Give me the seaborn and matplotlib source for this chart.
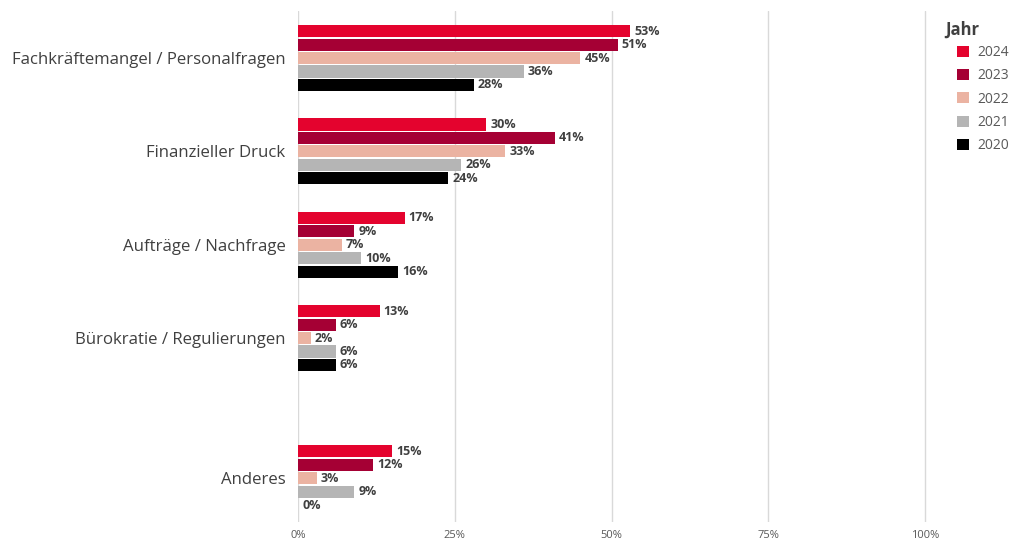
import matplotlib
matplotlib.use("Agg")
import matplotlib.pyplot as plt
import pandas as pd
import seaborn as sns
from matplotlib.ticker import FuncFormatter

# Anteil der Nennungen je Herausforderung und Jahr (in %)
categories = [
    "Fachkräftemangel / Personalfragen",
    "Finanzieller Druck",
    "Aufträge / Nachfrage",
    "Bürokratie / Regulierungen",
    "Anderes",
]
years = ["2024", "2023", "2022", "2021", "2020"]
share_2024 = [53, 30, 17, 13, 15]
share_2023 = [51, 41, 9, 6, 12]
share_2022 = [45, 33, 7, 2, 3]
share_2021 = [36, 26, 10, 6, 9]
share_2020 = [28, 24, 16, 6, 0]
x_ticks = [0, 25, 50, 75, 100]

# Zeilenpositionen: "Anderes" etwas abgesetzt
row_pos = [0, 1, 2, 3, 4.5]

palette = {
    "2024": "#E4032E",
    "2023": "#A50034",
    "2022": "#EBB3A2",
    "2021": "#B5B5B5",
    "2020": "#000000",
}

series = dict(zip(years, [share_2024, share_2023, share_2022, share_2021, share_2020]))
df = pd.DataFrame(
    [
        {"Kategorie": c, "pos": p, "Jahr": y, "Anteil": series[y][i]}
        for y in years
        for i, (c, p) in enumerate(zip(categories, row_pos))
    ]
)

sns.set_theme(style="white")
plt.rcParams["font.family"] = ["Open Sans", "DejaVu Sans"]

x_max = 102
fig = plt.figure(figsize=(10.21, 5.41), dpi=100)
ax = fig.add_axes([298 / 1021, 1 - 522 / 541,
                   627 * x_max / 100 / 1021, (522 - 11) / 541])

sns.barplot(
    data=df, x="Anteil", y="pos", hue="Jahr", hue_order=years,
    palette=palette, orient="y", native_scale=True, width=0.72, gap=0.1,
    saturation=1, errorbar=None, linewidth=0, ax=ax,
)

text_col = "#404040"
for cont, y in zip(ax.containers, years):
    ax.bar_label(cont, labels=[f"{v}%" for v in series[y]], padding=3,
                 fontsize=9, fontweight="bold", color=text_col)

ax.set_xlim(0, x_max)
ax.set_ylim(4.97, -0.504)
ax.set_xticks(x_ticks)
ax.xaxis.set_major_formatter(FuncFormatter(lambda v, _: f"{v:.0f}%"))
ax.set_yticks(row_pos)
ax.set_yticklabels(categories)
ax.tick_params(axis="y", length=0, pad=9, labelsize=12.1, labelcolor=text_col)
ax.tick_params(axis="x", length=0, pad=6, labelsize=8, labelcolor="#595959")
ax.grid(axis="x", color="#D9D9D9", linewidth=1)
ax.grid(axis="y", visible=False)
ax.set_axisbelow(True)
for s in ax.spines.values():
    s.set_visible(False)
ax.set_xlabel("")
ax.set_ylabel("")

handles, labels = ax.get_legend_handles_labels()
ax.legend(
    handles, labels, loc="upper left",
    bbox_to_anchor=(957 / 1021, 1 - 45 / 541), bbox_transform=fig.transFigure,
    frameon=False, fontsize=10, handlelength=0.85, handleheight=0.85,
    handletextpad=0.6, labelspacing=0.6, borderpad=0, borderaxespad=0,
    labelcolor="#595959",
)
fig.text(945 / 1021, 1 - 30 / 541, "Jahr", ha="left", va="center",
         fontsize=12, fontweight="bold", color=text_col)

fig.savefig("out.png", dpi=100)
